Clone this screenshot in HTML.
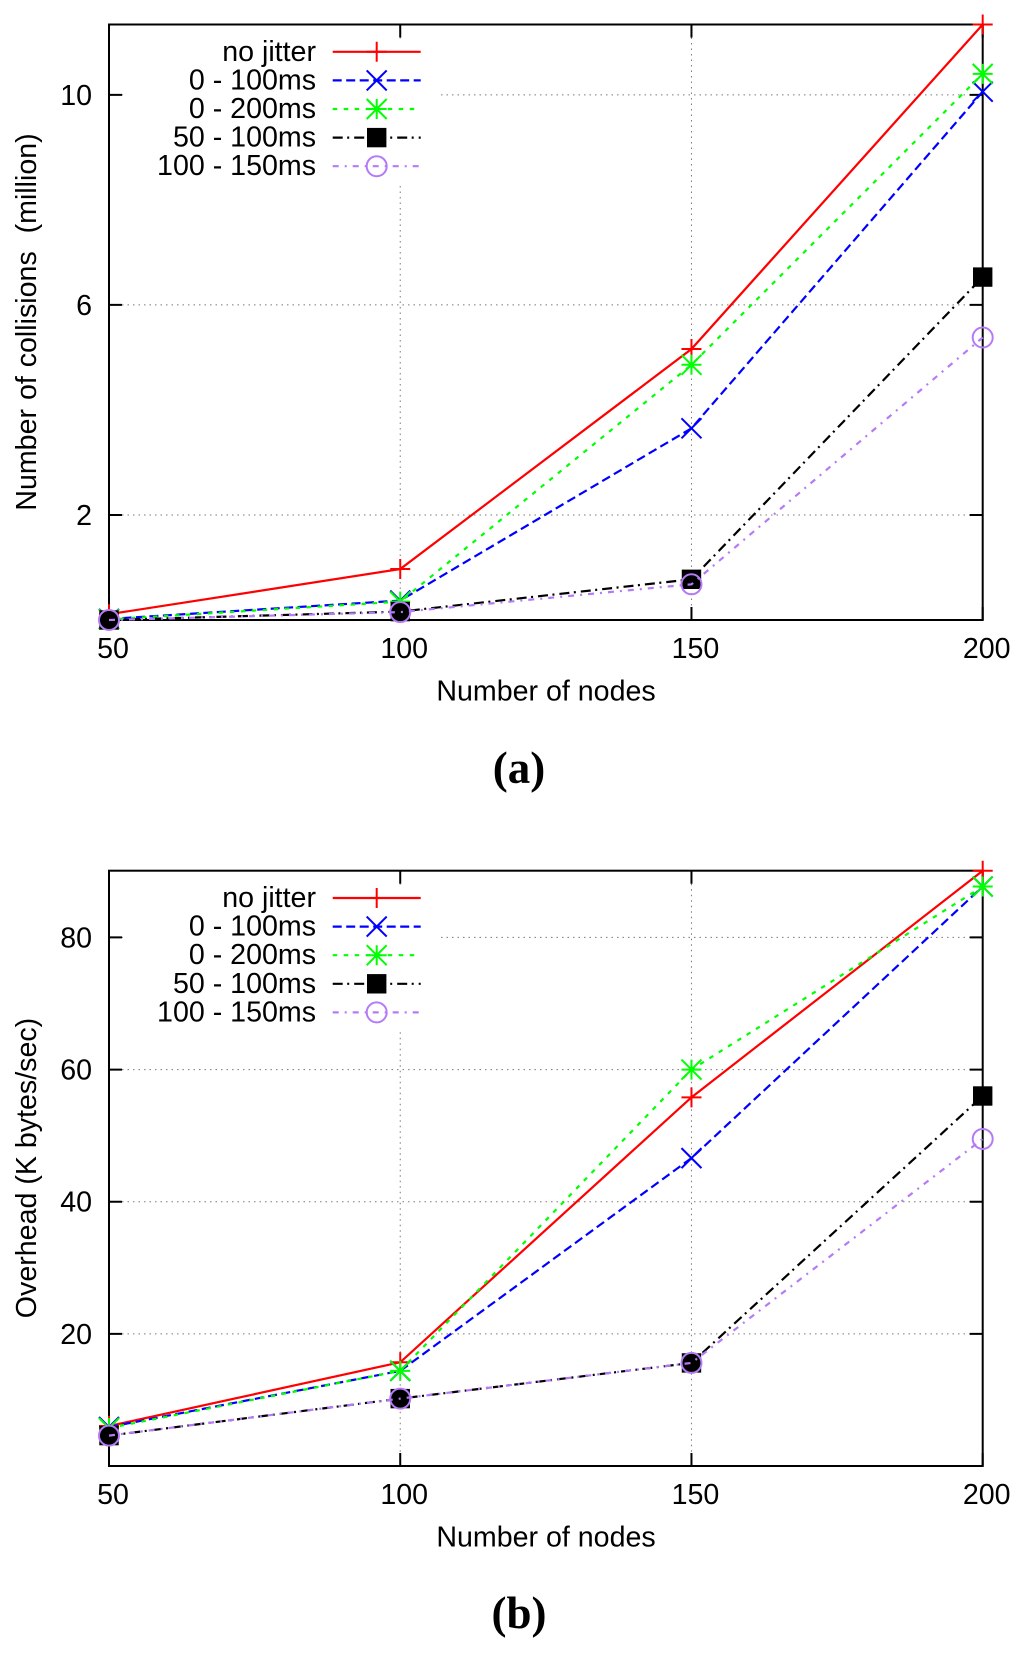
<!DOCTYPE html>
<html lang="en">
<head>
<meta charset="utf-8">
<title>Collisions and overhead versus number of nodes</title>
<style>
html,body{margin:0;padding:0;background:#fff;width:1024px;height:1653px;overflow:hidden}
svg{display:block}
text{font-family:"Liberation Sans",Arial,sans-serif;font-size:28.6px;fill:#000;white-space:pre}
.cap{font-family:"Liberation Serif","Times New Roman",serif;font-size:45px;font-weight:bold}
</style>
</head>
<body>
<svg id="figure" xmlns="http://www.w3.org/2000/svg" width="1024" height="1653" viewBox="0 0 1024 1653"></svg>
<script>
// Shared categories
const nodeCounts = [50, 100, 150, 200];
const seriesLabels = ["no jitter", "0 - 100ms", "0 - 200ms", "50 - 100ms", "100 - 150ms"];

// Panel (a): number of collisions (million)
const collisionsNoJitter = [0.11, 0.97, 5.16, 11.34];
const collisions0to100 = [0.02, 0.37, 3.65, 10.06];
const collisions0to200 = [0.01, 0.35, 4.86, 10.4];
const collisions50to100 = [0, 0.16, 0.775, 6.53];
const collisions100to150 = [0, 0.15, 0.68, 5.38];
const collisionTicks = [2, 6, 10];

// Panel (b): overhead (K bytes/sec)
const overheadNoJitter = [6.05, 15.7, 55.8, 90.1];
const overhead0to100 = [5.9, 14.4, 46.6, 87.7];
const overhead0to200 = [5.75, 14.4, 60, 87.7];
const overhead50to100 = [4.6, 10.2, 15.6, 56];
const overhead100to150 = [4.6, 10.2, 15.6, 49.5];
const overheadTicks = [20, 40, 60, 80];

const NS = "http://www.w3.org/2000/svg";
const root = document.getElementById("figure");

const seriesStyles = [
  {slug: "no-jitter", color: "#ff0000", dash: "", marker: "plus"},
  {slug: "0-100ms", color: "#0000ff", dash: "9 4.5", marker: "cross"},
  {slug: "0-200ms", color: "#00ff00", dash: "4.5 6.5", marker: "star"},
  {slug: "50-100ms", color: "#000000", dash: "10 4.5 2 5", marker: "square"},
  {slug: "100-150ms", color: "#b57bf7", dash: "6 6 2 6", marker: "circle"}
];

const panels = [
  {
    slug: "collisions", caption: "(a)", yTitle: "Number of collisions  (million)", titleSpacing: 1,
    series: [collisionsNoJitter, collisions0to100, collisions0to200, collisions50to100, collisions100to150],
    ticks: collisionTicks, yMax: 11.34,
    top: 24.5, bottom: 620, titleY: 322, tickBase: 658, xTitleBase: 700.7, captionBase: 783
  },
  {
    slug: "overhead", caption: "(b)", yTitle: "Overhead (K bytes/sec)", titleSpacing: 0,
    series: [overheadNoJitter, overhead0to100, overhead0to200, overhead50to100, overhead100to150],
    ticks: overheadTicks, yMax: 90.1,
    top: 870.7, bottom: 1466, titleY: 1168, tickBase: 1504, xTitleBase: 1546.7, captionBase: 1628
  }
];

const LEFT = 109, RIGHT = 982.7, TICK = 13;

function mk(tag, attrs, parent, content) {
  const el = document.createElementNS(NS, tag);
  for (const k in attrs) el.setAttribute(k, attrs[k]);
  if (content !== undefined) el.textContent = content;
  parent.appendChild(el);
  return el;
}

function xAxis(v) {
  const lo = nodeCounts[0], hi = nodeCounts[nodeCounts.length - 1];
  return LEFT + (v - lo) / (hi - lo) * (RIGHT - LEFT);
}

function yAxis(panel, v) {
  return panel.bottom - v / panel.yMax * (panel.bottom - panel.top);
}

function drawMarker(parent, kind, color, cx, cy) {
  const r = 10, w = 2;
  let el;
  if (kind === "plus") {
    el = mk("path", {d: `M${cx - r} ${cy}H${cx + r}M${cx} ${cy - r}V${cy + r}`, stroke: color, "stroke-width": w, fill: "none"}, parent);
  } else if (kind === "cross") {
    el = mk("path", {d: `M${cx - r} ${cy - r}L${cx + r} ${cy + r}M${cx - r} ${cy + r}L${cx + r} ${cy - r}`, stroke: color, "stroke-width": w, fill: "none"}, parent);
  } else if (kind === "star") {
    el = mk("path", {d: `M${cx - r} ${cy}H${cx + r}M${cx} ${cy - r}V${cy + r}M${cx - r} ${cy - r}L${cx + r} ${cy + r}M${cx - r} ${cy + r}L${cx + r} ${cy - r}`, stroke: color, "stroke-width": w, fill: "none"}, parent);
  } else if (kind === "square") {
    el = mk("rect", {x: cx - 9.7, y: cy - 9.7, width: 19.4, height: 19.4, fill: color}, parent);
  } else {
    el = mk("circle", {cx: cx, cy: cy, r: 10, stroke: color, "stroke-width": w, fill: "none"}, parent);
  }
  return el;
}

panels.forEach(function (p) {
  const g = mk("g", {}, root);
  
  

  const grid = {stroke: "#7a7a7a", "stroke-width": 1, "stroke-dasharray": "1.5 4", fill: "none"};

  // Horizontal grid lines and ticks
  p.ticks.forEach(function (t) {
    const y = yAxis(p, t);
    const gl = mk("line", Object.assign({x1: LEFT + TICK, x2: RIGHT - TICK, y1: y, y2: y}, grid), g);
    
    
  });
  // Vertical grid lines
  nodeCounts.slice(1, -1).forEach(function (n) {
    const x = xAxis(n);
    const gl = mk("line", Object.assign({x1: x, x2: x, y1: p.top + TICK, y2: p.bottom - TICK}, grid), g);
    
    
  });

  // Legend backing masks the grid
  const lb = mk("rect", {x: LEFT + TICK + 1, y: p.top + TICK + 1, width: 437 - LEFT - TICK - 1, height: 144, fill: "#fff"}, g);
  
  

  // Ticks
  const axisStyle = {stroke: "#000", "stroke-width": 2, fill: "none"};
  p.ticks.forEach(function (t) {
    const y = yAxis(p, t);
    const a = mk("path", Object.assign({d: `M${LEFT} ${y}h${TICK}M${RIGHT} ${y}h${-TICK}`}, axisStyle), g);
    
    
    const lab = mk("text", {x: 92, y: y + 10, "text-anchor": "end"}, g, String(t));
    
    
  });
  nodeCounts.forEach(function (n) {
    const x = xAxis(n);
    const a = mk("path", Object.assign({d: `M${x} ${p.bottom}v${-TICK}M${x} ${p.top}v${TICK}`}, axisStyle), g);
    
    
    const lab = mk("text", {x: x + 4, y: p.tickBase, "text-anchor": "middle"}, g, String(n));
    
    
  });

  // Plot frame
  const frame = mk("rect", Object.assign({x: LEFT, y: p.top, width: RIGHT - LEFT, height: p.bottom - p.top}, axisStyle), g);
  
  

  // Axis titles
  const xt = mk("text", {x: 546, y: p.xTitleBase, "text-anchor": "middle"}, g, "Number of nodes");
  
  
  const yt = mk("text", {x: 0, y: 0, "text-anchor": "middle", "word-spacing": p.titleSpacing, transform: `translate(36 ${p.titleY}) rotate(-90)`}, g, p.yTitle);
  
  

  // Series lines and markers
  p.series.forEach(function (vals, i) {
    const st = seriesStyles[i];
    const sg = mk("g", {}, g);
    
    
    const pts = vals.map(function (v, j) { return xAxis(nodeCounts[j]) + "," + yAxis(p, v); }).join(" ");
    const attrs = {points: pts, fill: "none", stroke: st.color, "stroke-width": 2.2};
    if (st.dash) attrs["stroke-dasharray"] = st.dash;
    const line = mk("polyline", attrs, sg);
    
    
    vals.forEach(function (v, j) {
      const m = drawMarker(sg, st.marker, st.color, xAxis(nodeCounts[j]), yAxis(p, v));
      
      
    });
  });

  // Legend
  const leg = mk("g", {}, g);
  
  
  seriesLabels.forEach(function (label, i) {
    const st = seriesStyles[i];
    const y = p.top + 27.3 + i * 28.6;
    const entry = mk("g", {}, leg);
    
    
    const tx = mk("text", {x: 316, y: y + 9, "text-anchor": "end"}, entry, label);
    
    
    const attrs = {x1: 332.7, x2: 420.7, y1: y, y2: y, stroke: st.color, "stroke-width": 2.2};
    if (st.dash) attrs["stroke-dasharray"] = st.dash;
    const ln = mk("line", attrs, entry);
    
    
    const mm = drawMarker(entry, st.marker, st.color, 376.7, y);
    
    
  });

  // Panel caption
  const cap = mk("text", {x: 519, y: p.captionBase, "text-anchor": "middle", class: "cap"}, g, p.caption);
  
  
});
</script>
</body>
</html>
